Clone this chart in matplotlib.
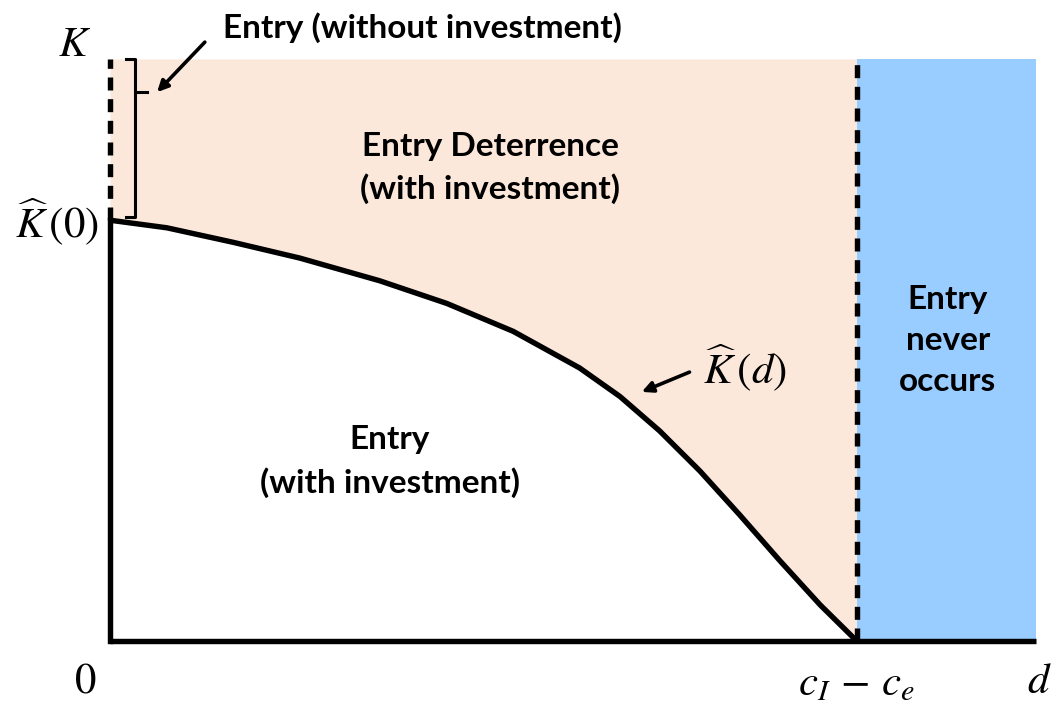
import numpy as np
import matplotlib.pyplot as plt
from matplotlib.patches import Rectangle

plt.rcParams['font.family'] = ['Lato', 'DejaVu Sans']
plt.rcParams['mathtext.fontset'] = 'stix'

# threshold capacity K_hat(d)
d_vals = [0.0, 0.076, 0.165, 0.254, 0.361, 0.451, 0.540, 0.629, 0.683,
          0.736, 0.790, 0.843, 0.897, 0.951, 1.0]
k_hat = [0.723, 0.710, 0.685, 0.658, 0.619, 0.580, 0.532, 0.469, 0.420,
         0.361, 0.292, 0.217, 0.138, 0.062, 0.0]
d_cut = 1.0      # c_I - c_e
d_max = 1.24
k_top = 1.0

peach = '#FCE8DA'
blue = '#99CCFF'
lw = 3.9
dash = (0, (2.4, 1.6))

fig = plt.figure(figsize=(10.59, 7.06), dpi=100)
ax = fig.add_axes([110 / 1059, 65 / 706, 926 / 1059, 582 / 706])
ax.set_xlim(0, d_max)
ax.set_ylim(0, k_top)
ax.axis('off')

# regions
ax.fill_between(d_vals, k_hat, k_top, color=peach, lw=0, zorder=1)
ax.add_patch(Rectangle((d_cut, 0), d_max - d_cut, k_top, color=blue, lw=0, zorder=1))

# boundary curve and axes
ax.plot(d_vals, k_hat, color='black', lw=lw, solid_capstyle='butt',
        solid_joinstyle='round', zorder=3, clip_on=False)
ax.plot([0, d_max], [0, 0], color='black', lw=lw, solid_capstyle='butt', zorder=4, clip_on=False)
ax.plot([0, 0], [0, k_hat[0]], color='black', lw=lw, solid_capstyle='projecting', zorder=4, clip_on=False)
ax.plot([0, 0], [k_hat[0], k_top], color='black', lw=lw, linestyle=dash, zorder=4, clip_on=False)
ax.plot([d_cut, d_cut], [0, k_top], color='black', lw=lw, linestyle=dash, zorder=4, clip_on=False)

# bracket marking the band between K_hat(0) and K
bx0, bx1, btip = 0.022, 0.034, 0.050
k_mid = k_top - 0.057
ax.plot([bx0, bx1, bx1, bx0], [k_top, k_top, k_hat[0] + 0.006, k_hat[0] + 0.006],
        color='black', lw=2.2, zorder=4, clip_on=False)
ax.plot([bx1, btip], [k_mid, k_mid], color='black', lw=2.2, zorder=4, clip_on=False)

arrow = dict(arrowstyle='-|>,head_length=0.65,head_width=0.32', color='black', lw=2.6,
             shrinkA=0, shrinkB=0)
ax.annotate('', xy=(0.063, k_mid), xytext=(0.127, 1.029), arrowprops=arrow,
            annotation_clip=False)
ax.annotate('', xy=(0.712, 0.428), xytext=(0.776, 0.462), arrowprops=arrow,
            annotation_clip=False)

bold = dict(fontsize=24, fontweight='bold', ha='center', va='center', linespacing=1.5,
            zorder=5, clip_on=False)
ax.text(0.418, 1.054, 'Entry (without investment)', **bold)
ax.text(0.509, 0.813, 'Entry Deterrence\n(with investment)', **bold)
ax.text(0.375, 0.308, 'Entry\n(with investment)', **bold)
ax.text(1.122, 0.517, 'Entry\nnever\noccurs', **bold)

math = dict(fontsize=31, ha='center', va='center', clip_on=False)
ax.text(0.850, 0.469, r'$\widehat{K}\,(d)$', **math)
ax.text(-0.048, 1.026, r'$K$', **math)
ax.text(-0.071, 0.720, r'$\widehat{K}\,(0)$', **math)
ax.text(-0.033, -0.068, r'$0$', **math)
ax.text(d_cut, -0.074, r'$c_I\,-\,c_e$', **math)
ax.text(1.245, -0.068, r'$d$', **math)

fig.savefig('out.png', dpi=100)
